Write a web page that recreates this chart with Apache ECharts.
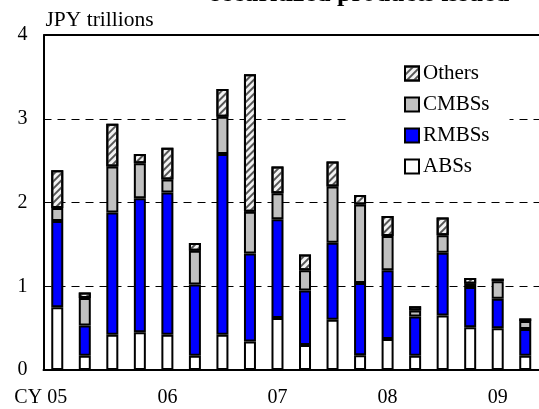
<!DOCTYPE html>
<html>
<head>
<meta charset="utf-8">
<script src="https://cdn.jsdelivr.net/npm/echarts@6/dist/echarts.min.js"></script>
<style>html,body{margin:0;padding:0;background:#fff}#c{width:539px;height:409px}</style>
</head>
<body>
<div id="c"></div>
<script>
const quarters = ['05Q1','05Q2','05Q3','05Q4','06Q1','06Q2','06Q3','06Q4','07Q1','07Q2','07Q3','07Q4','08Q1','08Q2','08Q3','08Q4','09Q1','09Q2'];
const yearLabels = ['05','06','07','08','09'];
const absValues    = [0.75,0.17,0.42,0.45,0.42,0.17,0.42,0.34,0.62,0.30,0.60,0.175,0.37,0.17,0.65,0.51,0.50,0.17];
const rmbsValues   = [1.03,0.36,1.46,1.60,1.70,0.85,2.16,1.05,1.18,0.65,0.92,0.865,0.82,0.47,0.75,0.48,0.35,0.32];
const cmbsValues   = [0.155,0.33,0.55,0.42,0.155,0.405,0.445,0.50,0.31,0.24,0.67,0.935,0.41,0.07,0.21,0.04,0.21,0.095];
const othersValues = [0.45,0.065,0.51,0.11,0.38,0.09,0.33,1.64,0.32,0.19,0.30,0.115,0.24,0.05,0.21,0.07,0.03,0.03];
const yTicks = [0,1,2,3,4];

const FONT = "'Liberation Serif','Times New Roman',serif";
const chart = echarts.init(document.getElementById('c'), null, {renderer:'canvas'});
const border = {borderColor:'#000', borderWidth:2};
function mk(name, data, style) {
  return {name, type:'bar', stack:'total', data, barWidth:12, itemStyle:Object.assign({}, border, style), emphasis:{disabled:true}, animation:false};
}
chart.setOption({
  animation:false,
  textStyle:{fontFamily:FONT},
  grid:{left:43.5, top:35, width:499.5, bottom:39, show:true, borderColor:'#000', borderWidth:0},
  legend:{
    data:['Others','CMBSs','RMBSs','ABSs'], orient:'vertical', left:348, top:57,
    padding:[6,20,8,56], itemGap:10, itemWidth:14, itemHeight:14, icon:'rect',
    backgroundColor:'#fff',
    textStyle:{fontFamily:FONT, fontSize:21, color:'#000', padding:[0,0,0,-1]}
  },
  xAxis:{
    type:'category', data:quarters,
    axisLine:{lineStyle:{color:'#000', width:2}},
    axisTick:{interval:3, length:7, lineStyle:{color:'#000', width:2}},
    axisLabel:{interval:3, margin:18, color:'#000', fontSize:20, fontFamily:FONT,
      formatter:function(v, i){ const y = yearLabels[i/4]; return i===0 ? '{cy|CY }'+y+'{pad|}' : y; },
      rich:{cy:{fontSize:20, fontFamily:FONT, color:'#000'}, pad:{width:33}}
    },
    splitLine:{show:false}
  },
  yAxis:[{
    type:'value', min:0, max:4, interval:1,
    name:'JPY trillions', nameLocation:'end', nameGap:4,
    nameTextStyle:{align:'left', verticalAlign:'bottom', fontSize:21.5, fontFamily:FONT, color:'#000', padding:[0,0,0,2]},
    axisLine:{show:true, lineStyle:{color:'#000', width:2}},
    axisTick:{show:false},
    axisLabel:{margin:16, color:'#000', fontSize:20, fontFamily:FONT, formatter:function(v){return yTicks.indexOf(v)>=0 ? String(v) : '';}},
    splitLine:{show:true, lineStyle:{color:'#000', width:1, type:[8,6]}}
  }],
  series:[
    mk('ABSs', absValues, {color:'#fff'}),
    mk('RMBSs', rmbsValues, {color:'#0000ff'}),
    mk('CMBSs', cmbsValues, {color:'#c0c0c0'}),
    mk('Others', othersValues, {color:'#f2f2f2', decal:{symbol:'rect', symbolSize:1, dashArrayX:[1,0], dashArrayY:[1.5,2.5], rotation:-Math.PI/4, color:'#555'}})
  ]
});
const yTop = chart.convertToPixel({yAxisIndex:0}, 4);
chart.setOption({graphic:[
  {type:'text', style:{text:'securitized products issued', x:360, y:7, align:'center', verticalAlign:'bottom', fontSize:26, fontWeight:'bold', fontFamily:FONT, fill:'#000'}},
  {type:'line', shape:{x1:43.5, y1:yTop, x2:545, y2:yTop}, style:{stroke:'#000', lineWidth:2}, z:10}
]});
</script>
</body>
</html>
